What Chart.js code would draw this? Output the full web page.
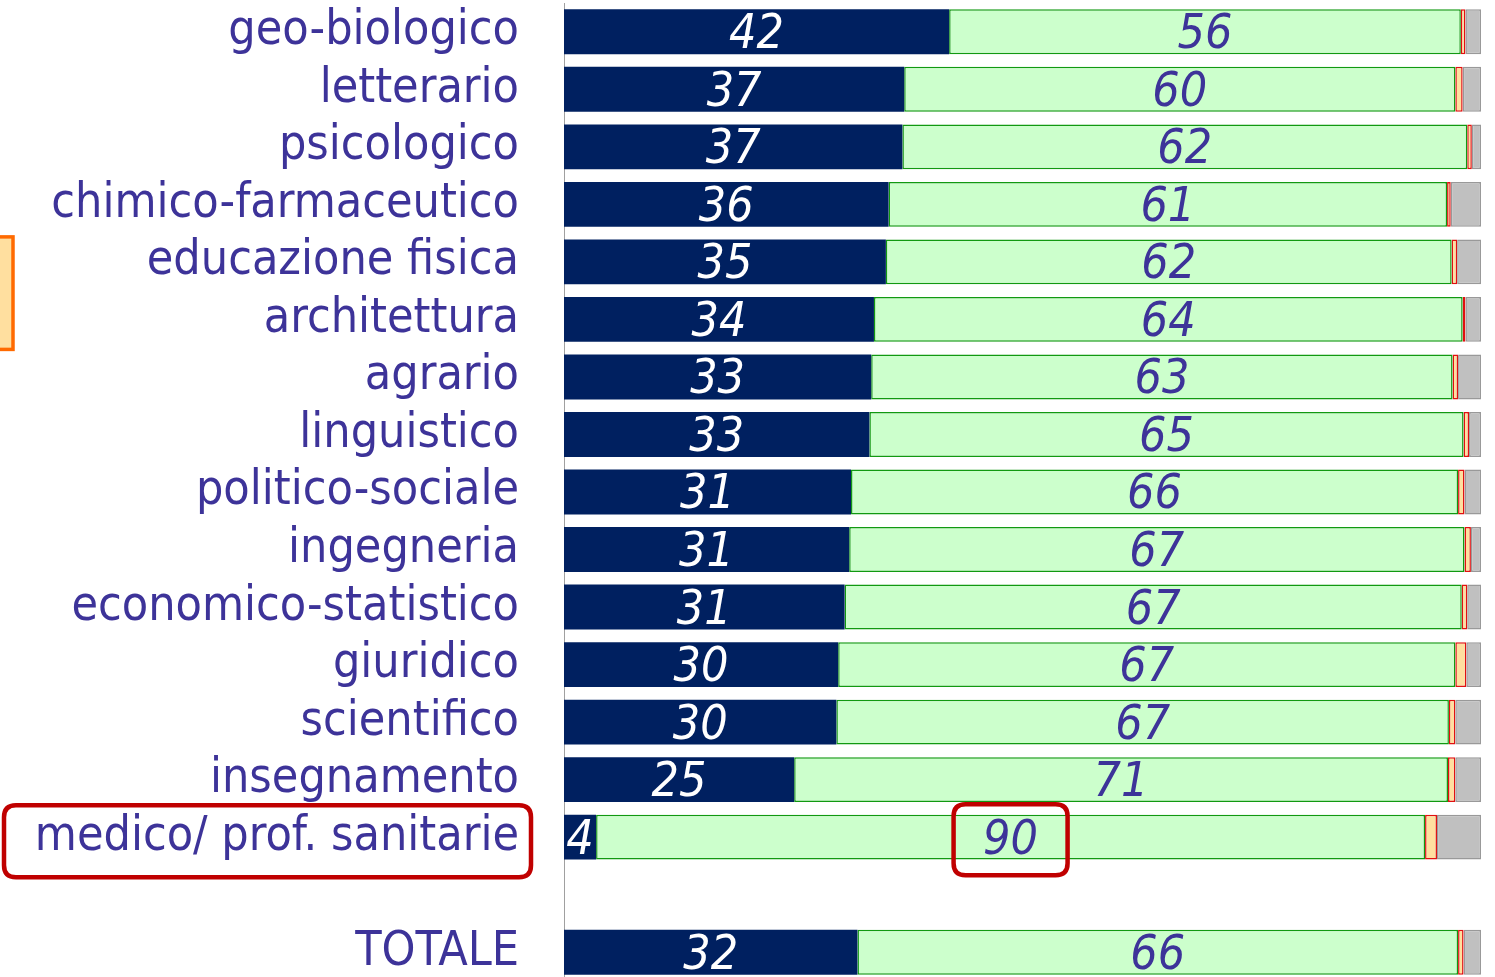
<!DOCTYPE html>
<html>
<head>
<meta charset="utf-8">
<script src="https://cdn.jsdelivr.net/npm/chart.js@4"></script>
<style>
html,body{margin:0;padding:0;background:#fff;overflow:hidden;}
#wrap{position:absolute;left:0;top:0;width:1495px;height:982px;}
</style>
</head>
<body>
<div id="wrap"><canvas id="c"></canvas></div>
<script>
const categories = ['geo-biologico','letterario','psicologico','chimico-farmaceutico','educazione fisica','architettura','agrario','linguistico','politico-sociale','ingegneria','economico-statistico','giuridico','scientifico','insegnamento','medico/ prof. sanitarie','','TOTALE'];
const navyValues  = [42.0,37.1,36.9,35.4,35.1,33.8,33.5,33.3,31.3,31.1,30.6,29.9,29.7,25.1,3.5,null,32.0];
const greenValues = [55.8,60.1,61.6,60.9,61.7,64.2,63.4,64.8,66.2,67.1,67.3,67.3,66.8,71.3,90.4,null,65.5];
const orangeValues= [0.5,0.8,0.5,0.4,0.6,0.3,0.6,0.6,0.7,0.7,0.6,1.2,0.7,0.8,1.3,null,0.6];
const greyValues  = [1.7,2.0,1.0,3.3,2.6,1.7,2.5,1.3,1.8,1.1,1.5,1.6,2.8,2.8,4.8,null,1.9];
const navyLabels  = ['42','37','37','36','35','34','33','33','31','31','31','30','30','25','4','','32'];
const greenLabels = ['56','60','62','61','62','64','63','65','66','67','67','67','67','71','90','','66'];

const TEXT = '#3d3399';
const VAL_FONT = 'italic 48px "DejaVu Sans Condensed", "DejaVu Sans", sans-serif';

function roundRect(ctx,x,y,w,h,r){
  ctx.beginPath();
  ctx.moveTo(x+r,y);ctx.lineTo(x+w-r,y);ctx.quadraticCurveTo(x+w,y,x+w,y+r);
  ctx.lineTo(x+w,y+h-r);ctx.quadraticCurveTo(x+w,y+h,x+w-r,y+h);
  ctx.lineTo(x+r,y+h);ctx.quadraticCurveTo(x,y+h,x,y+h-r);
  ctx.lineTo(x,y+r);ctx.quadraticCurveTo(x,y,x+r,y);ctx.closePath();
}

const labelPlugin = {
  id:'labels',
  afterDatasetsDraw(chart){
    const ctx = chart.ctx;
    ctx.save();
    ctx.font = VAL_FONT;
    ctx.textAlign='center';
    ctx.textBaseline='middle';
    [[0,navyLabels,'#ffffff'],[1,greenLabels,TEXT]].forEach(([di,labs,col])=>{
      const meta = chart.getDatasetMeta(di);
      meta.data.forEach((el,i)=>{
        if(!labs[i]) return;
        const p = el.getProps(['x','y','base'],true);
        ctx.fillStyle = col;
        ctx.fillText(labs[i],(p.x+p.base)/2,p.y+4);
      });
    });
    // annotations
    const ys = chart.scales.y;
    const ca = chart.chartArea;
    const mi = categories.indexOf('medico/ prof. sanitarie');
    const my = ys.getPixelForValue(mi);
    ctx.strokeStyle='#c00000';
    ctx.lineWidth=4.5;
    roundRect(ctx,4,my-32,ca.left-37,72,12); ctx.stroke();
    const gel = chart.getDatasetMeta(1).data[mi].getProps(['x','base'],true);
    const gx = (gel.x+gel.base)/2;
    roundRect(ctx,gx-57,my-33,114,71,12); ctx.stroke();
    // orange box on left
    const ei = categories.indexOf('educazione fisica');
    const ai = categories.indexOf('architettura');
    const t = ys.getPixelForValue(ei)-25, b = ys.getPixelForValue(ai)+30;
    ctx.fillStyle='#ffdf9f';
    ctx.strokeStyle='#ff6a00';
    ctx.lineWidth=3.5;
    ctx.fillRect(-10,t,23,b-t);
    ctx.strokeRect(-10,t,23,b-t);
    ctx.restore();
  }
};

new Chart(document.getElementById('c'),{
  type:'bar',
  data:{
    labels:categories,
    datasets:[
      {data:navyValues,backgroundColor:'#002060',borderColor:'#002060',borderWidth:0},
      {data:greenValues,backgroundColor:'#ccffcc',borderColor:'#119911',borderWidth:1.5,borderSkipped:false},
      {data:orangeValues,backgroundColor:'#ffdf9f',borderColor:'#e01010',borderWidth:1.5,borderSkipped:false},
      {data:greyValues,backgroundColor:'#c0c0c0',borderColor:'#999999',borderWidth:1.5,borderSkipped:false}
    ]
  },
  options:{
    indexAxis:'y',
    responsive:true,
    maintainAspectRatio:false,
    animation:false,
    events:[],
    categoryPercentage:1,
    barPercentage:0.78,
    layout:{padding:{top:3,bottom:1,left:0,right:14}},
    plugins:{legend:{display:false},tooltip:{enabled:false}},
    scales:{
      x:{stacked:true,min:0,max:100,display:false},
      y:{
        stacked:true,
        afterFit(s){ s.width = 564; s.paddingTop = 0; s.paddingBottom = 0; },
        grid:{display:false,drawTicks:false},
        border:{display:true,color:'#a0a0a0',width:1},
        ticks:{color:TEXT,font:{family:'"DejaVu Sans Condensed", "DejaVu Sans", sans-serif',size:48,lineHeight:1},padding:45,autoSkip:false}
      }
    }
  },
  plugins:[labelPlugin]
});
</script>
</body>
</html>
